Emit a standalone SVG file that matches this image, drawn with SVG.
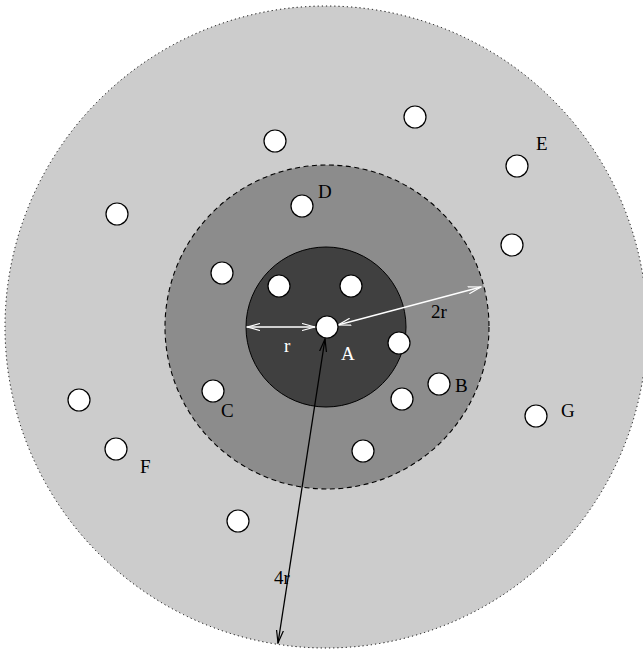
<svg xmlns="http://www.w3.org/2000/svg" width="643" height="650" viewBox="0 0 643 650">
<style>
.node{fill:#fff;stroke:#000;stroke-width:1.2}
.lbl{font-family:"Liberation Serif","DejaVu Serif",serif;font-size:19px;fill:#000}
.wl{font-family:"Liberation Serif","DejaVu Serif",serif;font-size:19px;fill:#fff}
</style>
<defs>
<marker id="aw" viewBox="0 0 14 8" refX="13" refY="4" markerWidth="14" markerHeight="8" markerUnits="userSpaceOnUse" orient="auto-start-reverse"><path d="M0,0.5 L13,4 L0,7.5" fill="none" stroke="#fff" stroke-width="1.2"/></marker>
<marker id="ab" viewBox="0 0 14 8" refX="13" refY="4" markerWidth="14" markerHeight="8" markerUnits="userSpaceOnUse" orient="auto-start-reverse"><path d="M0,0.5 L13,4 L0,7.5" fill="none" stroke="#000" stroke-width="1.2"/></marker>
</defs>
<g id="zones">
<circle id="outer" cx="326" cy="327" r="321" fill="#cccccc" stroke="#000" stroke-width="1" stroke-dasharray="1.2,3"/>
<circle id="middle" cx="327" cy="327" r="162" fill="#8c8c8c" stroke="#000" stroke-width="1.1" stroke-dasharray="5,3.5"/>
<circle id="inner" cx="326" cy="327" r="80" fill="#404040" stroke="#000" stroke-width="1"/>
</g>
<g id="connectors">
<line x1="247" y1="327" x2="315" y2="327" stroke="#fff" stroke-width="1.3" marker-start="url(#aw)" marker-end="url(#aw)"/>
<line x1="338" y1="325" x2="481" y2="287" stroke="#fff" stroke-width="1.3" marker-start="url(#aw)" marker-end="url(#aw)"/>
<line x1="325" y1="339" x2="278" y2="643" stroke="#000" stroke-width="1.3" marker-start="url(#ab)" marker-end="url(#ab)"/>
</g>
<g id="labels">
<text class="wl" x="284" y="352">r</text>
<text class="lbl" x="431" y="318">2r</text>
<text class="lbl" x="274" y="584">4r</text>
</g>
<g id="node-A"><circle class="node" cx="327" cy="327" r="11"/><text class="wl" x="341" y="360">A</text></g>
<g id="node-B"><circle class="node" cx="439" cy="384" r="11"/><text class="lbl" x="455" y="392">B</text></g>
<g id="node-C"><circle class="node" cx="213" cy="391" r="11"/><text class="lbl" x="221" y="417">C</text></g>
<g id="node-D"><circle class="node" cx="302" cy="206" r="11"/><text class="lbl" x="318" y="198">D</text></g>
<g id="node-E"><circle class="node" cx="517" cy="166" r="11"/><text class="lbl" x="536" y="150">E</text></g>
<g id="node-F"><circle class="node" cx="116" cy="449" r="11"/><text class="lbl" x="140" y="473">F</text></g>
<g id="node-G"><circle class="node" cx="536" cy="416" r="11"/><text class="lbl" x="561" y="417">G</text></g>
<g id="node-1"><circle class="node" cx="275" cy="141" r="11"/></g>
<g id="node-2"><circle class="node" cx="415" cy="117" r="11"/></g>
<g id="node-3"><circle class="node" cx="117" cy="214" r="11"/></g>
<g id="node-4"><circle class="node" cx="222" cy="273" r="11"/></g>
<g id="node-5"><circle class="node" cx="512" cy="245" r="11"/></g>
<g id="node-6"><circle class="node" cx="279" cy="286" r="11"/></g>
<g id="node-7"><circle class="node" cx="351" cy="286" r="11"/></g>
<g id="node-8"><circle class="node" cx="399" cy="343" r="11"/></g>
<g id="node-9"><circle class="node" cx="402" cy="399" r="11"/></g>
<g id="node-10"><circle class="node" cx="79" cy="400" r="11"/></g>
<g id="node-11"><circle class="node" cx="363" cy="451" r="11"/></g>
<g id="node-12"><circle class="node" cx="238" cy="521" r="11"/></g>
</svg>
